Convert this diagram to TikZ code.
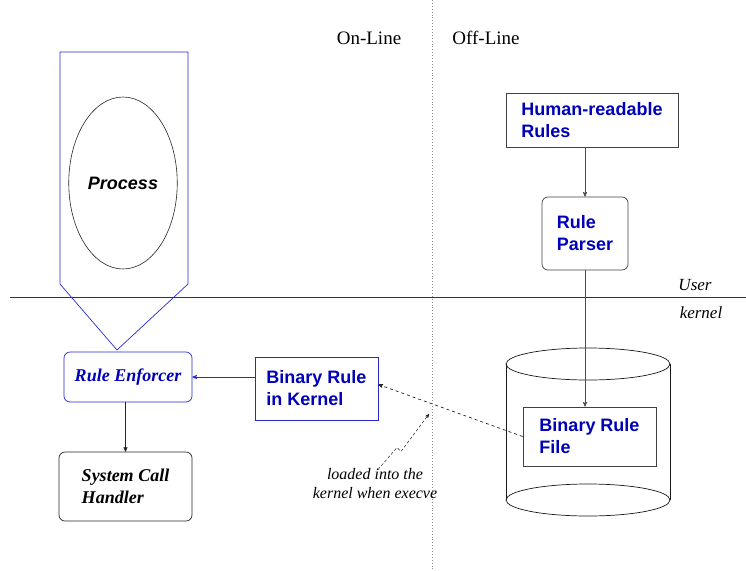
\documentclass[tikz,border=0pt]{standalone}
\usepackage{fontspec}
\setmainfont{Liberation Serif}
\setsansfont{Liberation Sans}
\usepackage{tikz}
\usetikzlibrary{positioning, shapes, arrows, calc}
\definecolor{ruleblue}{RGB}{0,0,185}
\definecolor{lineblue}{RGB}{40,40,210}

\begin{document}
\begin{tikzpicture}[x=1pt,y=-1pt,->,>=stealth',line width=0.7pt,
  box/.style={draw=black!75, fill=none, shape=rectangle, align=left, inner sep=0pt,
    font=\fontsize{18}{22}\selectfont\sffamily\bfseries, text=ruleblue},
  roundbox/.style={box, rounded corners=6pt},
  lab/.style={font=\fontsize{19}{22}\selectfont\rmfamily},
  ilab/.style={font=\fontsize{17}{20}\selectfont\rmfamily\itshape},
  ]
  \useasboundingbox (0,0) rectangle (746,570);

  % user / kernel and on-line / off-line borders
  \draw[-,black!80] (10,297) -- (746,297);
  \draw[-,black!45,dotted,line width=0.9pt] (432,0) -- (432,570);
  \node[lab] (online) at (369,38) {On-Line};
  \node[lab] (offline) at (486,38) {Off-Line};
  \node[ilab] (user) at (695,285) {User};
  \node[ilab] (kern) at (701,313) {kernel};

  % process container
  \draw[-,lineblue] (117,350) -- (60,284) -- (60,52) -- (188,52) -- (188,284) -- cycle;
  \node[ellipse, draw=black!85, line width=0.6pt, minimum width=100pt, minimum height=172pt,
    font=\fontsize{18}{22}\selectfont\sffamily\bfseries\itshape] (proc) at (123,183) {Process};

  % on-line side
  \node[roundbox, draw=lineblue, minimum width=128pt, minimum height=50pt,
    font=\fontsize{18}{22}\selectfont\rmfamily\bfseries\itshape] (enforcer) at (128,377) {Rule Enforcer};
  \node[box, draw=lineblue, minimum width=123pt, minimum height=63pt] (binkern) at (316.5,388.5) {Binary Rule\\in Kernel};
  \node[roundbox, draw=black!85, text=black, minimum width=133pt, minimum height=69pt,
    font=\fontsize{18}{22}\selectfont\rmfamily\bfseries\itshape] (syscall) at (125.5,486.5) {System Call\\Handler};

  % off-line side
  \node[box, minimum width=172pt, minimum height=54pt] (human) at (592,120) {Human-readable\\Rules};
  \node[roundbox, minimum width=86pt, minimum height=73pt] (parser) at (585,233.5) {Rule\\Parser};

  % rule file store
  \coordinate (cyltop) at (588,364);
  \coordinate (cylbot) at (588,500);
  \draw[-,black!90] (cyltop) ellipse [x radius=82pt, y radius=16pt];
  \draw[-,black!90] (cylbot) ellipse [x radius=82pt, y radius=16pt];
  \draw[-,black!90] ([xshift=-82pt]cyltop) -- ([xshift=-82pt]cylbot);
  \draw[-,black!90] ([xshift=82pt]cyltop) -- ([xshift=82pt]cylbot);
  \node[box, fill=white, minimum width=133pt, minimum height=59pt] (binfile) at (589.5,436.5) {Binary Rule\\File};

  % connectors
  \draw[black!70] (human.south -| parser.north) -- (parser.north);
  \draw[black!70] (parser.south) -- (parser.south |- binfile.north);
  \draw[lineblue] (binkern.west |- enforcer.east) -- (enforcer.east);
  \draw[black!85] (enforcer.south -| syscall.north) -- (syscall.north);
  \draw[dashed, black!85] (binfile.west) -- ([yshift=4pt]binkern.east);

  % annotation
  \node[ilab, font=\fontsize{16}{19}\selectfont\rmfamily\itshape, align=center, inner sep=1pt] (note) at (375,484) {loaded into the\\kernel when execve};
  \coordinate (hit) at (429,414);
  \draw[densely dashed, line width=0.5pt, black!85] ([xshift=3pt,yshift=-2pt]note.north) -- ++(19,-22) -- ++(4,4) -- (hit);
\end{tikzpicture}
\end{document}
